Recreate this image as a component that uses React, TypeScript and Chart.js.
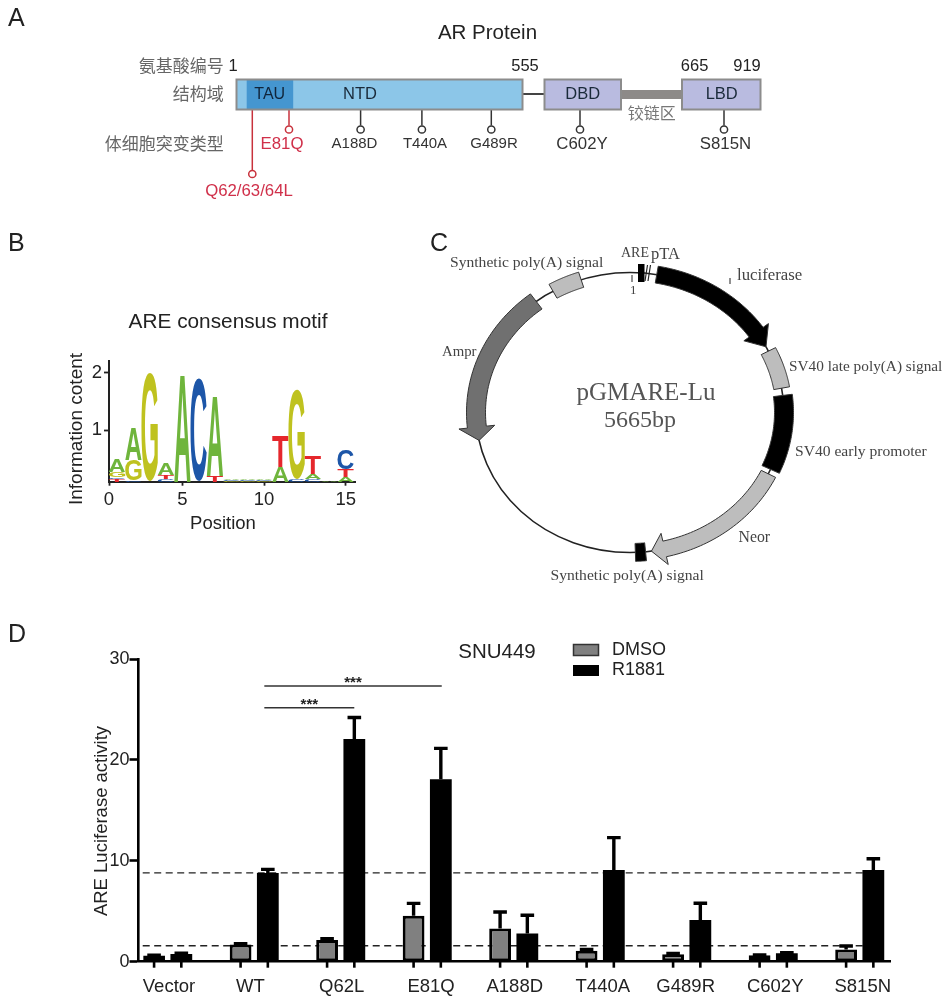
import React, { useEffect, useRef } from "react";
import { Chart, registerables } from "chart.js";

Chart.register(...registerables);

const SANS = '"Liberation Sans", Arial, sans-serif';
const SERIF = '"Liberation Serif", "Times New Roman", serif';
const CJK = '"Noto Sans CJK SC", sans-serif';

// ---------- Panel D data ----------
const groups = ["Vector", "WT", "Q62L", "E81Q", "A188D", "T440A", "G489R", "C602Y", "S815N"];
const groupLabelShift = [0.015, -0.045, 0.012, 0.045, 0.012, 0.03, -0.012, 0.023, 0.035];
const dmso = [0.62, 1.7, 2.15, 4.56, 3.3, 1.09, 0.73, 0.63, 1.22];
const dmsoErr = [0.03, 0.08, 0.13, 1.22, 1.62, 0.13, 0.1, 0.03, 0.33];
const r1881 = [0.76, 8.8, 22.07, 18.07, 2.8, 9.08, 4.13, 0.83, 9.08];
const r1881Err = [0.09, 0.35, 2.13, 3.07, 1.8, 3.22, 1.67, 0.07, 1.12];
const yTicksD = [0, 10, 20, 30];
const dashLevels = [8.8, 1.58];
const sigBars = [
  { from: 1.117, to: 2.157, level: 25.17 },
  { from: 1.117, to: 3.168, level: 27.32 },
];

// ---------- Panel B data ----------
const logoPos = [1, 2, 3, 4, 5, 6, 7, 8, 9, 10, 11, 12, 13, 14, 15];
const logoFloor = 0.11;
const logoLetters = [
  "TCGCACTGGGACCAA",
  "CG T  ACCCTGA T",
  "GA A   AAA  T C",
  "A              ",
];
const logoHeights = [
  [0.05, 0.02, 1.87, 0.05, 1.87, 1.79, 0.1, 0.02, 0.02, 0.02, 0.26, 0.05, 0.05, 0.01, 0.08],
  [0.03, 0.36, 0, 0.07, 0, 0, 1.4, 0.015, 0.015, 0.015, 0.53, 1.56, 0.08, 0, 0.13],
  [0.09, 0.57, 0, 0.2, 0, 0, 0, 0.02, 0.02, 0.02, 0, 0, 0.32, 0, 0.33],
  [0.23, 0, 0, 0, 0, 0, 0, 0, 0, 0, 0, 0, 0, 0, 0],
];
const logoColors: Record<string, string> = { A: "#6fb53c", C: "#1d56a8", G: "#bfc21f", T: "#e5272c" };
const logoXTicks = [0.51, 5, 10, 15];
const logoXLabels = ["0", "5", "10", "15"];
const logoYTicks = [1, 2];

// ---------- Panel A diagram ----------
const domains = [
  { x0: 236.5, x1: 522.5, fill: "#8cc6e8", label: "NTD", labelX: 360 },
  { x0: 544.5, x1: 621, fill: "#b9bbe0", label: "DBD", labelX: 582.7 },
  { x0: 682, x1: 760.5, fill: "#b9bbe0", label: "LBD", labelX: 721.7 },
];
const residueLabels = [
  { t: "1", x: 233 },
  { t: "555", x: 525 },
  { t: "665", x: 694.6 },
  { t: "919", x: 747 },
];
const rowLabels = [
  { t: "氨基酸编号", y: 66 },
  { t: "结构域", y: 94 },
  { t: "体细胞突变类型", y: 144 },
];
const mutations = [
  { t: "Q62/63/64L", x: 252.3, tip: 174, tx: 249, ty: 191, c: "#d0304a", size: 16.8 },
  { t: "E81Q", x: 289, tip: 129.5, tx: 282, ty: 144, c: "#d0304a", size: 16.8 },
  { t: "A188D", x: 360.6, tip: 129.5, tx: 354.5, ty: 144, c: "#333", size: 15 },
  { t: "T440A", x: 421.9, tip: 129.5, tx: 425, ty: 144, c: "#333", size: 15 },
  { t: "G489R", x: 491.3, tip: 129.5, tx: 494, ty: 144, c: "#333", size: 15 },
  { t: "C602Y", x: 580, tip: 129.5, tx: 582, ty: 144, c: "#333", size: 16.8 },
  { t: "S815N", x: 724, tip: 129.5, tx: 725.5, ty: 144, c: "#333", size: 16.8 },
];

// ---------- Panel C diagram (angles in degrees clockwise from the top) ----------
const ring = { cx: 630, cy: 412.5, rx: 154, ry: 140 };
const arcs = [
  { from: 10, to: 62, head: 55, hw: 8.5, headHw: 15, fill: "#000" },
  { from: 64, to: 80, head: null, hw: 8, headHw: 0, fill: "#bdbdbd" },
  { from: 83, to: 114, head: null, hw: 9.5, headHw: 0, fill: "#000" },
  { from: 116, to: 172, head: 167, hw: 8, headHw: 16, fill: "#bdbdbd" },
  { from: 174.2, to: 178, head: null, hw: 9, headHw: 0, fill: "#000" },
  { from: -37.5, to: -101.5, head: -96, hw: 9.5, headHw: 18, fill: "#707070" },
  { from: -18.5, to: -30, head: null, hw: 8, headHw: 0, fill: "#bdbdbd" },
];
const plasmidLabels = [
  { t: "Synthetic poly(A) signal", x: 450, y: 262.5, s: 15.6 },
  { t: "ARE", x: 621, y: 253, s: 14 },
  { t: "pTA", x: 651, y: 255, s: 16.5 },
  { t: "1", x: 630, y: 291, s: 13 },
  { t: "luciferase", x: 737, y: 276, s: 16.8 },
  { t: "SV40 late poly(A) signal", x: 789, y: 367, s: 15.3 },
  { t: "SV40 early promoter", x: 795, y: 451.5, s: 15.6 },
  { t: "Neor", x: 738.5, y: 538, s: 15.8 },
  { t: "Synthetic poly(A) signal", x: 550.5, y: 576, s: 15.6 },
  { t: "Ampr", x: 442, y: 352, s: 14.8 },
];

const panelLetters = [
  { t: "A", x: 8, y: 19 },
  { t: "B", x: 8, y: 244 },
  { t: "C", x: 430, y: 244 },
  { t: "D", x: 8, y: 635 },
];

function text(
  ctx: CanvasRenderingContext2D,
  s: string,
  x: number,
  y: number,
  font: string,
  color: string,
  align: CanvasTextAlign = "center",
  rot = 0
) {
  ctx.save();
  ctx.translate(x, y);
  if (rot) ctx.rotate(rot);
  ctx.font = font;
  ctx.fillStyle = color;
  ctx.textAlign = align;
  ctx.textBaseline = "middle";
  ctx.fillText(s, 0, 0);
  ctx.restore();
}

function ringPoint(deg: number, off: number) {
  const t = (deg * Math.PI) / 180;
  return [ring.cx + (ring.rx + off) * Math.sin(t), ring.cy - (ring.ry + off) * Math.cos(t)];
}

function drawPanelA(ctx: CanvasRenderingContext2D) {
  text(ctx, "AR Protein", 487.5, 33, `20.5px ${SANS}`, "#222");
  rowLabels.forEach((r) => text(ctx, r.t, 223.7, r.y, `17px ${CJK}`, "#666", "right"));
  residueLabels.forEach((r) => text(ctx, r.t, r.x, 66, `16.5px ${SANS}`, "#222"));
  // connectors
  ctx.strokeStyle = "#444";
  ctx.lineWidth = 2;
  ctx.beginPath();
  ctx.moveTo(522, 94);
  ctx.lineTo(545, 94);
  ctx.stroke();
  ctx.fillStyle = "#8d8a88";
  ctx.fillRect(621, 90, 61, 9);
  // stems
  mutations.forEach((m) => {
    ctx.strokeStyle = m.c === "#333" ? "#333" : "#c8323c";
    ctx.lineWidth = 1.5;
    ctx.beginPath();
    ctx.moveTo(m.x, 109);
    ctx.lineTo(m.x, m.tip - 4);
    ctx.stroke();
    ctx.beginPath();
    ctx.ellipse(m.x, m.tip, 3.6, 3.6, 0, 0, Math.PI * 2);
    ctx.fillStyle = "#fff";
    ctx.fill();
    ctx.stroke();
    text(ctx, m.t, m.tx, m.ty, `${m.size}px ${SANS}`, m.c);
  });
  domains.forEach((d) => {
    ctx.fillStyle = d.fill;
    ctx.fillRect(d.x0, 79.5, d.x1 - d.x0, 30);
  });
  ctx.fillStyle = "#4596d0";
  ctx.fillRect(246.7, 79.5, 46.5, 30);
  ctx.strokeStyle = "#8c8c8c";
  ctx.lineWidth = 2;
  domains.forEach((d) => ctx.strokeRect(d.x0, 79.5, d.x1 - d.x0, 30));
  domains.forEach((d) => text(ctx, d.label, d.labelX, 94, `16.5px ${SANS}`, "#1a2a3a"));
  text(ctx, "TAU", 269.7, 94.5, `16px ${SANS}`, "#10243a");
  text(ctx, "铰链区", 651.7, 113, `16px ${CJK}`, "#777");
}

function drawPanelC(ctx: CanvasRenderingContext2D) {
  ctx.strokeStyle = "#222";
  ctx.lineWidth = 1.6;
  ctx.beginPath();
  ctx.ellipse(ring.cx, ring.cy, ring.rx, ring.ry, 0, 0, Math.PI * 2);
  ctx.stroke();
  arcs.forEach((a) => {
    const shaftEnd = a.head === null ? a.to : a.head;
    const steps = 40;
    ctx.beginPath();
    for (let i = 0; i <= steps; i++) {
      const [x, y] = ringPoint(a.from + ((shaftEnd - a.from) * i) / steps, a.hw);
      i ? ctx.lineTo(x, y) : ctx.moveTo(x, y);
    }
    if (a.head !== null) {
      const o = ringPoint(a.head, a.headHw);
      const tip = ringPoint(a.to, 0);
      const n = ringPoint(a.head, -a.headHw);
      ctx.lineTo(o[0], o[1]);
      ctx.lineTo(tip[0], tip[1]);
      ctx.lineTo(n[0], n[1]);
    }
    for (let i = steps; i >= 0; i--) {
      const [x, y] = ringPoint(a.from + ((shaftEnd - a.from) * i) / steps, -a.hw);
      ctx.lineTo(x, y);
    }
    ctx.closePath();
    ctx.fillStyle = a.fill;
    ctx.fill();
    ctx.strokeStyle = "#333";
    ctx.lineWidth = 1;
    ctx.stroke();
  });
  // ARE / pTA marks at the top of the ring
  ctx.fillStyle = "#000";
  ctx.fillRect(638, 264, 6.5, 18);
  ctx.strokeStyle = "#222";
  ctx.lineWidth = 1.2;
  [646, 649].forEach((x) => {
    ctx.beginPath();
    ctx.moveTo(x + 1.5, 265);
    ctx.lineTo(x - 1, 281);
    ctx.stroke();
  });
  ctx.lineWidth = 1;
  [
    [632, 275, 632, 282],
    [730, 278, 730, 284],
  ].forEach(([a, b, c, d]) => {
    ctx.beginPath();
    ctx.moveTo(a, b);
    ctx.lineTo(c, d);
    ctx.stroke();
  });
  plasmidLabels.forEach((l) => text(ctx, l.t, l.x, l.y, `${l.s}px ${SERIF}`, "#444", "left"));
  text(ctx, "pGMARE-Lu", 646, 393, `25px ${SERIF}`, "#555");
  text(ctx, "5665bp", 640, 421, `24px ${SERIF}`, "#555");
}

const diagramPlugin = {
  id: "diagrams",
  afterDraw(chart: any) {
    const ctx: CanvasRenderingContext2D = chart.ctx;
    ctx.save();
    panelLetters.forEach((p) => text(ctx, p.t, p.x, p.y, `25px ${SANS}`, "#222", "left"));
    drawPanelA(ctx);
    drawPanelC(ctx);
    ctx.restore();
  },
};

const barExtrasPlugin = {
  id: "barExtras",
  afterDatasetsDraw(chart: any) {
    const ctx: CanvasRenderingContext2D = chart.ctx;
    const y = chart.scales.y;
    const xs = chart.scales.x;
    const axisY = y.getPixelForValue(0);
    ctx.save();
    [
      { idx: 0, vals: dmso, errs: dmsoErr },
      { idx: 1, vals: r1881, errs: r1881Err },
    ].forEach(({ idx, vals, errs }) => {
      chart.getDatasetMeta(idx).data.forEach((el: any, i: number) => {
        const top = y.getPixelForValue(vals[i] + errs[i]);
        const from = y.getPixelForValue(vals[i]);
        ctx.strokeStyle = "#000";
        ctx.lineWidth = 3.4;
        ctx.beginPath();
        ctx.moveTo(el.x, from);
        ctx.lineTo(el.x, top);
        ctx.moveTo(el.x - 6.8, top);
        ctx.lineTo(el.x + 6.8, top);
        ctx.stroke();
        ctx.lineWidth = 2.6;
        ctx.beginPath();
        ctx.moveTo(el.x, axisY);
        ctx.lineTo(el.x, axisY + 6);
        ctx.stroke();
      });
    });
    sigBars.forEach((s) => {
      const mid = (xs.getPixelForValue(s.from) + xs.getPixelForValue(s.to)) / 2;
      text(ctx, "***", mid, y.getPixelForValue(s.level) - 3, `bold 15px ${SANS}`, "#222");
    });
    // axis title, panel caption, legend
    text(ctx, "ARE Luciferase activity", 102, 821, `18.5px ${SANS}`, "#222", "center", -Math.PI / 2);
    text(ctx, "SNU449", 497, 652, `20.5px ${SANS}`, "#222");
    ctx.fillStyle = "#808080";
    ctx.strokeStyle = "#333";
    ctx.lineWidth = 1.5;
    ctx.fillRect(573.5, 644.5, 25, 11);
    ctx.strokeRect(573.5, 644.5, 25, 11);
    ctx.fillStyle = "#000";
    ctx.fillRect(573, 665, 26, 11);
    text(ctx, "DMSO", 612, 650, `18px ${SANS}`, "#222", "left");
    text(ctx, "R1881", 612, 670.5, `18px ${SANS}`, "#222", "left");
    ctx.restore();
  },
};

const logoPlugin = {
  id: "logoLetters",
  afterDatasetsDraw(chart: any) {
    const ctx: CanvasRenderingContext2D = chart.ctx;
    ctx.save();
    ctx.font = `bold 100px ${SANS}`;
    ctx.textAlign = "left";
    ctx.textBaseline = "alphabetic";
    logoLetters.forEach((row, level) => {
      chart.getDatasetMeta(level + 1).data.forEach((el: any, i: number) => {
        const ch = row[i];
        const h = Math.abs(el.base - el.y);
        if (!ch || ch === " " || h <= 0) return;
        const m = ctx.measureText(ch);
        const bw = m.actualBoundingBoxLeft + m.actualBoundingBoxRight;
        const bh = m.actualBoundingBoxAscent + m.actualBoundingBoxDescent;
        ctx.save();
        ctx.translate(el.x - el.width / 2, Math.min(el.y, el.base));
        ctx.scale(el.width / bw, h / bh);
        ctx.fillStyle = logoColors[ch];
        ctx.fillText(ch, m.actualBoundingBoxLeft, m.actualBoundingBoxAscent);
        ctx.restore();
      });
    });
    text(ctx, "ARE consensus motif", 228, 322, `20.8px ${SANS}`, "#222");
    text(ctx, "Position", 223, 524, `18.5px ${SANS}`, "#222");
    text(ctx, "Information cotent", 77, 429, `19px ${SANS}`, "#222", "center", -Math.PI / 2);
    ctx.restore();
  },
};

export default function App() {
  const mainRef = useRef<HTMLCanvasElement>(null);
  const logoRef = useRef<HTMLCanvasElement>(null);

  useEffect(() => {
    const main = new Chart(mainRef.current!, {
      type: "bar",
      data: {
        datasets: [
          {
            label: "DMSO",
            data: dmso.map((v, i) => ({ x: i, y: v })),
            backgroundColor: "#808080",
            borderColor: "#000",
            borderWidth: 3,
            borderSkipped: false,
            categoryPercentage: 0.67,
            barPercentage: 0.8,
            order: 2,
          },
          {
            label: "R1881",
            data: r1881.map((v, i) => ({ x: i, y: v })),
            backgroundColor: "#000",
            borderWidth: 0,
            categoryPercentage: 0.67,
            barPercentage: 0.8,
            order: 2,
          },
          ...dashLevels.map((lv) => ({
            type: "line" as const,
            label: "baseline",
            data: [
              { x: -0.289, y: lv },
              { x: 8.25, y: lv },
            ],
            borderColor: "#222",
            borderWidth: 1.4,
            borderDash: [7, 4.5],
            pointRadius: 0,
            order: 3,
          })),
          ...sigBars.map((s) => ({
            type: "line" as const,
            label: "significance",
            data: [
              { x: s.from, y: s.level },
              { x: s.to, y: s.level },
            ],
            borderColor: "#333",
            borderWidth: 1.5,
            pointRadius: 0,
            order: 1,
            clip: false,
          })),
        ] as any,
      },
      options: {
        responsive: false,
        animation: false,
        events: [],
        layout: { padding: { left: 0, top: 659, right: 60, bottom: 0 } },
        plugins: { legend: { display: false }, tooltip: { enabled: false }, title: { display: false } },
        scales: {
          x: {
            type: "linear",
            min: -0.3376,
            max: 8.35,
            offset: false,
            afterFit: (s: any) => {
              s.height = 38.3;
            },
            afterBuildTicks: (s: any) => {
              s.ticks = groups.map((_, i) => ({ value: i + groupLabelShift[i] }));
            },
            grid: { display: true, drawOnChartArea: false, drawTicks: false, offset: false },
            border: { display: true, color: "#000", width: 2.6 },
            ticks: {
              autoSkip: false,
              maxRotation: 0,
              padding: 14,
              color: "#222",
              font: { family: SANS, size: 18.5 },
              callback: (_v: any, i: number) => groups[i],
            },
          },
          y: {
            min: 0,
            max: 30,
            afterFit: (s: any) => {
              s.width = 138.5;
            },
            afterBuildTicks: (s: any) => {
              s.ticks = yTicksD.map((v) => ({ value: v }));
            },
            grid: { display: true, drawOnChartArea: false, drawTicks: true, tickLength: 9, tickColor: "#000", tickWidth: 2.6 },
            border: { display: true, color: "#000", width: 2.6 },
            ticks: { padding: 0, color: "#222", font: { family: SANS, size: 18 } },
          },
        },
      } as any,
      plugins: [barExtrasPlugin, diagramPlugin],
    });

    const logo = new Chart(logoRef.current!, {
      type: "bar",
      data: {
        datasets: [
          {
            label: "floor",
            data: logoPos.map((p) => ({ x: p, y: logoFloor })),
            backgroundColor: "transparent",
            categoryPercentage: 1,
            barPercentage: 1,
          },
          ...logoHeights.map((row, l) => ({
            label: `level ${l + 1}`,
            data: logoPos.map((p, i) => ({ x: p, y: row[i] })),
            backgroundColor: "transparent",
            categoryPercentage: 1,
            barPercentage: 1,
          })),
        ],
      },
      options: {
        responsive: false,
        animation: false,
        events: [],
        layout: { padding: { left: 0, top: 361, right: 595, bottom: 480 } },
        plugins: { legend: { display: false }, tooltip: { enabled: false } },
        scales: {
          x: {
            type: "linear",
            stacked: true,
            min: 0.51,
            max: 15.57,
            offset: false,
            afterFit: (s: any) => {
              s.height = 38.3;
            },
            afterBuildTicks: (s: any) => {
              s.ticks = logoXTicks.map((v) => ({ value: v }));
            },
            grid: { display: true, drawOnChartArea: false, drawTicks: true, tickLength: 4, tickColor: "#222", tickWidth: 1.8, offset: false },
            border: { display: true, color: "#222", width: 2 },
            ticks: {
              autoSkip: false,
              maxRotation: 0,
              padding: 3,
              color: "#222",
              font: { family: SANS, size: 18.5 },
              callback: (_v: any, i: number) => logoXLabels[i],
            },
          },
          y: {
            stacked: true,
            min: 0.11,
            max: 2.2,
            afterFit: (s: any) => {
              s.width = 109;
            },
            afterBuildTicks: (s: any) => {
              s.ticks = logoYTicks.map((v) => ({ value: v }));
            },
            grid: { display: true, drawOnChartArea: false, drawTicks: true, tickLength: 5, tickColor: "#222", tickWidth: 1.8 },
            border: { display: true, color: "#222", width: 2 },
            ticks: { padding: 2, color: "#222", font: { family: SANS, size: 18.5 } },
          },
        },
      } as any,
      plugins: [logoPlugin],
    });

    return () => {
      main.destroy();
      logo.destroy();
    };
  }, []);

  const canvasStyle: React.CSSProperties = { position: "absolute", left: 0, top: 0, display: "block" };
  return (
    <div style={{ position: "absolute", left: 0, top: 0, width: 950, height: 1000, background: "#fff" }}>
      <canvas ref={mainRef} width={950} height={1000} style={canvasStyle} />
      <canvas ref={logoRef} width={950} height={1000} style={canvasStyle} />
    </div>
  );
}
